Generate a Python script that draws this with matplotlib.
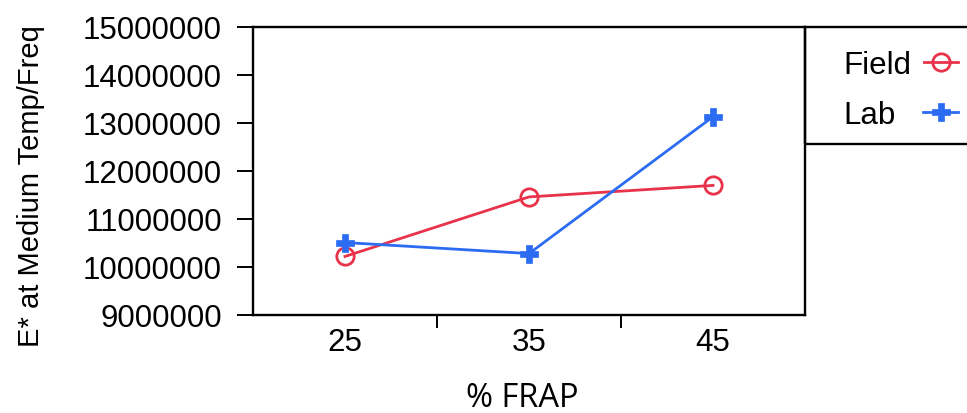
import matplotlib
matplotlib.use("Agg")
import matplotlib.pyplot as plt
from matplotlib.patches import Rectangle

# ---- data ----
frap = ["25", "35", "45"]
field_vals = [10220000, 11460000, 11700000]
lab_vals = [10510000, 10280000, 13130000]
y_ticks = [9000000, 10000000, 11000000, 12000000, 13000000, 14000000, 15000000]

red = "#e8334a"
blue = "#2b6cf2"

plt.rcParams['font.family'] = ['Liberation Sans', 'DejaVu Sans']

W, H = 967, 414
fig = plt.figure(figsize=(W / 100, H / 100), dpi=100)
ax = fig.add_axes([253 / W, 1 - 316 / H, (805 - 253) / W, (316 - 28) / H])

xs = list(range(len(frap)))
l_field, = ax.plot(xs, field_vals, color=red, lw=2.0, marker="o", ms=12.5,
                   mfc="none", mec=red, mew=2.0, label="Field")
l_lab, = ax.plot(xs, lab_vals, color=blue, lw=2.0, marker="P", ms=13.5,
                 mfc=blue, mec=blue, mew=0.5, label="Lab")

ax.set_xlim(-0.5, 2.5)
ax.set_ylim(9000000, 15000000)

# categorical labels, tick marks only between categories
ax.set_xticks(xs)
ax.set_xticklabels(frap, fontsize=22.5)
ax.tick_params(axis="x", which="major", length=0, pad=9)
ax.set_xticks([0.5, 1.5], minor=True)
ax.tick_params(axis="x", which="minor", length=9, width=1.4, direction="out")

ax.set_yticks(y_ticks)
ax.set_yticklabels([str(v) for v in y_ticks], fontsize=22.5)
ax.tick_params(axis="y", length=11.5, width=1.4, pad=11)

for s in ax.spines.values():
    s.set_linewidth(1.7)

ax.set_ylabel("E* at Medium Temp/Freq", fontsize=21)
ax.yaxis.set_label_coords(-0.377, 0.451)
ax.set_xlabel("% FRAP", fontsize=23.5, family=["Open Sans", "DejaVu Sans"])
ax.xaxis.set_label_coords(0.487, -0.228)

# legend box to the right of the plot, running off the figure edge
fig.patches.append(Rectangle((805 / W, 1 - 145 / H), 200 / W, (145 - 28) / H,
                             transform=fig.transFigure, fill=False,
                             edgecolor="black", lw=1.7, clip_on=False))
# one legend per row so labels stay left aligned and handles line up
common = dict(loc="center left", borderaxespad=0, borderpad=0, markerfirst=False,
              fontsize=22.5, frameon=False, handlelength=1.1)
leg1 = fig.legend(handles=[l_field], bbox_to_anchor=(843 / W, 1 - 66 / H),
                  handletextpad=0.4, **common)
leg2 = fig.legend(handles=[l_lab], bbox_to_anchor=(843 / W, 1 - 116 / H),
                  handletextpad=0.9, **common)

fig.savefig("out.png", dpi=100)
